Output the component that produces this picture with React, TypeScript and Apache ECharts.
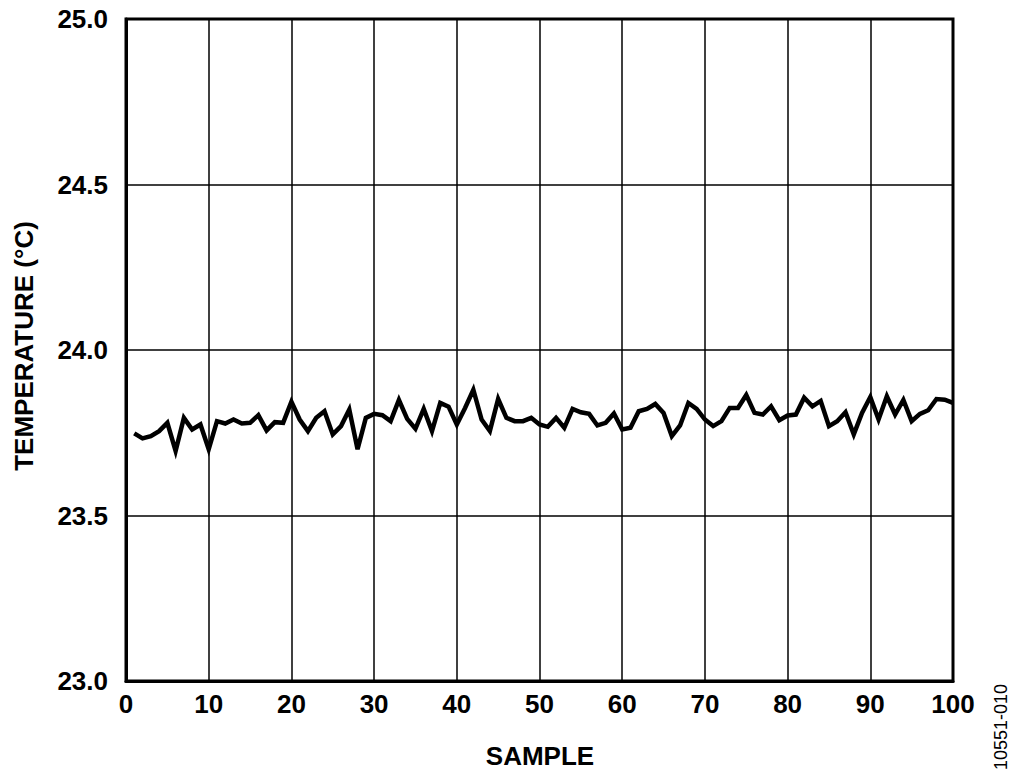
import React, { useEffect, useRef } from "react";
import * as echarts from "echarts";

const sampleNumbers: number[] = Array.from({ length: 100 }, (_, i) => i + 1);
const temperatures: number[] = [
  23.748, 23.733, 23.74, 23.755, 23.78, 23.695, 23.795, 23.76, 23.775, 23.7,
  23.785, 23.778, 23.79, 23.778, 23.78, 23.803, 23.757, 23.782, 23.78, 23.844,
  23.79, 23.755, 23.795, 23.815, 23.745, 23.77, 23.82, 23.7, 23.795, 23.807,
  23.803, 23.785, 23.849, 23.792, 23.762, 23.822, 23.755, 23.84, 23.829, 23.775,
  23.825, 23.88, 23.79, 23.755, 23.852, 23.795, 23.785, 23.785, 23.795, 23.775,
  23.768, 23.795, 23.765, 23.822, 23.812, 23.807, 23.772, 23.78, 23.808, 23.76,
  23.765, 23.815, 23.822, 23.837, 23.81, 23.74, 23.772, 23.84, 23.822, 23.79,
  23.77, 23.785, 23.825, 23.825, 23.864, 23.81, 23.805, 23.83, 23.788, 23.802,
  23.805, 23.856, 23.83, 23.846, 23.77, 23.785, 23.812, 23.745, 23.81, 23.858,
  23.79, 23.86, 23.805, 23.849, 23.785, 23.807, 23.818, 23.852, 23.85, 23.84,
];
const xAxisTitle = "SAMPLE";
const yAxisTitle = "TEMPERATURE (°C)";
const figureCode = "10551-010";

const FONT = '"Liberation Sans", Arial, Helvetica, sans-serif';

export default function App() {
  const ref = useRef<HTMLDivElement>(null);
  useEffect(() => {
    if (!ref.current) return;
    const chart = echarts.init(ref.current, undefined, { renderer: "svg" });
    const data = sampleNumbers.map((n, i) => [n, temperatures[i]]);
    chart.setOption({
      animation: false,
      backgroundColor: "#ffffff",
      grid: {
        left: 126,
        right: 71,
        top: 19,
        bottom: 97,
        show: true,
        borderColor: "#000",
        borderWidth: 3,
        backgroundColor: "transparent",
      },
      xAxis: {
        type: "value",
        min: 0,
        max: 100,
        interval: 10,
        axisLine: { show: true, lineStyle: { color: "#000", width: 3 } },
        axisTick: { show: false },
        splitLine: { show: true, lineStyle: { color: "#000", width: 1.5 } },
        axisLabel: {
          color: "#000",
          fontFamily: FONT,
          fontWeight: "bold",
          fontSize: 26,
          margin: 10,
        },
      },
      yAxis: {
        type: "value",
        min: 23,
        max: 25,
        interval: 0.5,
        axisLine: { show: true, lineStyle: { color: "#000", width: 3 } },
        axisTick: { show: false },
        splitLine: { show: true, lineStyle: { color: "#000", width: 1.5 } },
        axisLabel: {
          color: "#000",
          fontFamily: FONT,
          fontWeight: "bold",
          fontSize: 26,
          margin: 18,
          formatter: (v: number) => v.toFixed(1),
        },
      },
      series: [
        {
          type: "line",
          data,
          showSymbol: false,
          symbol: "none",
          lineStyle: { color: "#000", width: 4.5, join: "miter" },
        },
      ],
      graphic: [
        {
          type: "text",
          x: 540,
          y: 756,
          style: {
            text: xAxisTitle,
            fill: "#000",
            font: `bold 26px ${FONT}`,
            align: "center",
            verticalAlign: "middle",
          },
        },
        {
          type: "text",
          x: 24,
          y: 346,
          rotation: Math.PI / 2,
          style: {
            text: yAxisTitle,
            fill: "#000",
            font: `bold 26px ${FONT}`,
            align: "center",
            verticalAlign: "middle",
          },
        },
        {
          type: "text",
          x: 1001,
          y: 727,
          rotation: Math.PI / 2,
          style: {
            text: figureCode,
            fill: "#000",
            font: `18px ${FONT}`,
            align: "center",
            verticalAlign: "middle",
          },
        },
      ],
    });
    return () => chart.dispose();
  }, []);
  return (
    <div
      ref={ref}
      style={{ position: "fixed", left: 0, top: 0, width: 1024, height: 778, background: "#fff" }}
    />
  );
}
